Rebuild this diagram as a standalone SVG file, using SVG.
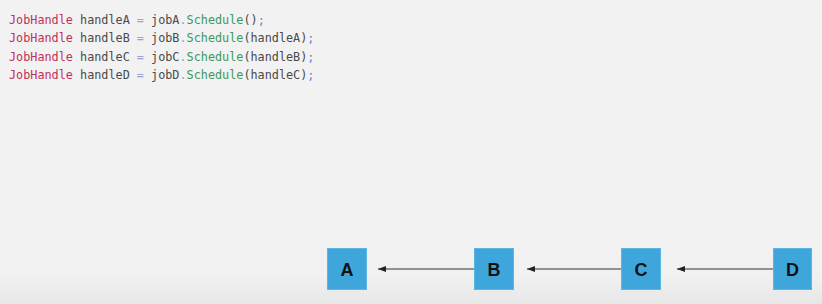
<svg xmlns="http://www.w3.org/2000/svg" width="822" height="304" viewBox="0 0 822 304">
<defs>
<linearGradient id="bg" x1="0" y1="0" x2="0" y2="1">
<stop offset="0" stop-color="#f2f2f2"/>
<stop offset="0.9" stop-color="#f1f1f1"/>
<stop offset="1" stop-color="#e7e7e7"/>
</linearGradient>
<marker id="arr" markerWidth="8" markerHeight="6" refX="8" refY="3" orient="auto" markerUnits="userSpaceOnUse">
<path d="M0,0 L8,3 L0,6 Z" fill="#222"/>
</marker>
<style>
.code{font-family:"DejaVu Sans Mono","Liberation Mono",monospace;font-size:11.8px;fill:#4a4a4a;white-space:pre}
.kw{fill:#c2305a}
.op{fill:#98a4cc}
.fn{fill:#3b9a5c}
.sc{fill:#6f7fd6}
.box{fill:#3fa6db;stroke:#5bb5e3;stroke-width:1}
.lbl{font-family:"Liberation Sans",Arial,sans-serif;font-weight:bold;font-size:18px;fill:#111;text-anchor:middle}
.edge{stroke:#333;stroke-width:1.2;fill:none}
</style>
</defs>
<rect x="0" y="0" width="822" height="304" fill="url(#bg)"/>
<g id="code">
<text class="code" x="9" y="24"><tspan class="kw">JobHandle</tspan> handleA <tspan class="op">=</tspan> jobA<tspan class="op">.</tspan><tspan class="fn">Schedule</tspan>()<tspan class="sc">;</tspan></text>
<text class="code" x="9" y="42.3"><tspan class="kw">JobHandle</tspan> handleB <tspan class="op">=</tspan> jobB<tspan class="op">.</tspan><tspan class="fn">Schedule</tspan>(handleA)<tspan class="sc">;</tspan></text>
<text class="code" x="9" y="60.6"><tspan class="kw">JobHandle</tspan> handleC <tspan class="op">=</tspan> jobC<tspan class="op">.</tspan><tspan class="fn">Schedule</tspan>(handleB)<tspan class="sc">;</tspan></text>
<text class="code" x="9" y="78.9"><tspan class="kw">JobHandle</tspan> handleD <tspan class="op">=</tspan> jobD<tspan class="op">.</tspan><tspan class="fn">Schedule</tspan>(handleC)<tspan class="sc">;</tspan></text>
</g>
<g id="connectors">
<line class="edge" x1="474" y1="269" x2="378" y2="269" marker-end="url(#arr)"/>
<line class="edge" x1="621" y1="269" x2="527" y2="269" marker-end="url(#arr)"/>
<line class="edge" x1="773" y1="269" x2="677" y2="269" marker-end="url(#arr)"/>
</g>
<g id="node-A"><rect class="box" x="327.5" y="248.5" width="39" height="41"/><text class="lbl" x="347" y="276">A</text></g>
<g id="node-B"><rect class="box" x="474.5" y="248.5" width="39" height="41"/><text class="lbl" x="494" y="276">B</text></g>
<g id="node-C"><rect class="box" x="621.5" y="248.5" width="39" height="41"/><text class="lbl" x="641" y="276">C</text></g>
<g id="node-D"><rect class="box" x="773.5" y="248.5" width="38" height="41"/><text class="lbl" x="792.5" y="276">D</text></g>
</svg>
